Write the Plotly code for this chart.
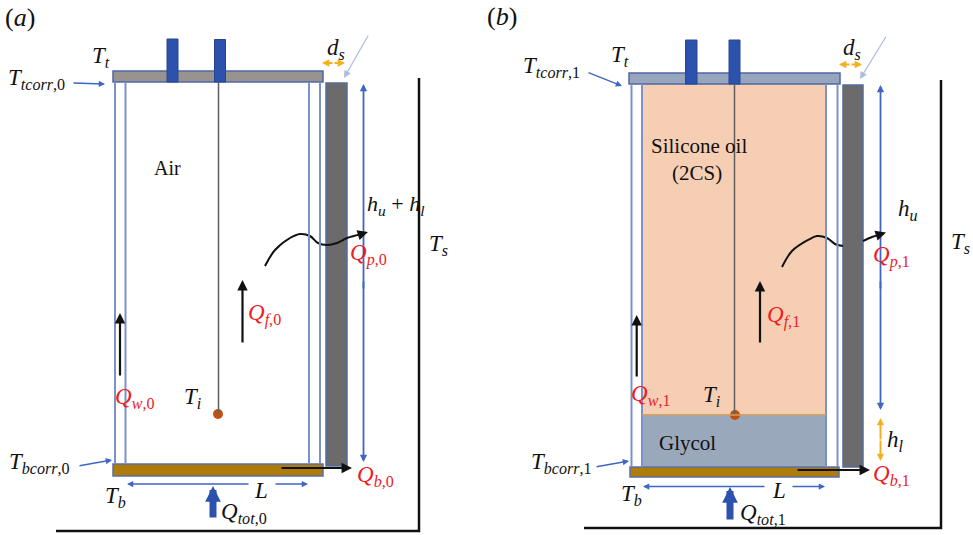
import plotly.graph_objects as go

WIDTH, HEIGHT = 973, 535
SERIF = "Liberation Serif"

PLATE_BLUE = "#4f67a8"
WALL = "#7d91c9"
PIN = "#2c52ad"
ARROW_BLUE = "#3f66c4"
ORANGE = "#f6b01c"
RED = "#ee1c25"
BLACK = "#111111"

# rectangles: x0, x1, y0, y1, fill, line
rects_a = [
    (113, 323, 71, 82, "#99938f", PLATE_BLUE),
    (326, 347, 83, 466, "#6b6b6b", "#566c9e"),
    (113, 323, 464, 476, "#ad7c09", "#5a6ea8"),
]
rects_b = [
    (642, 826, 84, 415, "#f6ceb3", "#f6ceb3"),
    (642, 826, 415, 466, "#9aa8bc", "#9aa8bc"),
    (629, 840, 73, 84, "#98a6bd", PLATE_BLUE),
    (843, 863, 85, 467, "#6b6b6b", "#566c9e"),
    (630, 839, 467, 477, "#ad7c09", "#5a6ea8"),
]
pins = [
    (167, 178, 39, 82),
    (214.5, 225.5, 39.5, 82),
    (685.5, 697, 40, 84),
    (729, 740, 40, 84),
]
# wall lines: x, y0, y1
walls = [
    (115, 82, 464), (125.5, 82, 464), (309, 82, 464), (320, 82, 464),
    (631.5, 84, 467), (642, 84, 467), (826, 84, 467), (837.5, 84, 467),
]
# thermocouple rods: x, y0, y1
rods = [(218.5, 82, 414), (734.5, 84, 415)]
dots_x = [218, 735]
dots_y = [414, 415]

# enclosure outline
frame_a_x, frame_a_y = [419, 419, 56], [78, 531, 531]
frame_b_x, frame_b_y = [941, 941, 584], [80, 528, 528]

glycol_top = (642, 826, 415)

# wavy heat path
qp0_x = [265, 275, 290, 300, 310, 318, 327, 337, 347, 362]
qp0_y = [266, 250, 238, 234, 236, 243, 245, 243, 238, 234]
qp1_x = [782, 792, 808, 817, 827, 835, 843]
qp1_y = [267, 251, 240, 236, 238, 244, 246]
qp1b_x = [863, 872, 880]
qp1b_y = [241, 237, 234.5]

# arrows: tail x, tail y, tip x, tip y, colour, width, head length
arrows = [
    (72, 83, 105, 84, ARROW_BLUE, 1.4, 6),
    (78, 466, 112, 460, ARROW_BLUE, 1.4, 6),
    (369, 34, 344, 78, "#aebce2", 1.2, 7),
    (333, 63, 345, 63, ORANGE, 2, 7),
    (334, 63, 322, 63, ORANGE, 2, 7),
    (363.5, 290, 363.5, 84, ARROW_BLUE, 1.8, 7),
    (363.5, 280, 363.5, 462, ARROW_BLUE, 1.8, 7),
    (250, 484, 127, 484, ARROW_BLUE, 1.6, 6),
    (274, 484, 308, 484, ARROW_BLUE, 1.6, 6),
    (120, 377, 120, 313, BLACK, 2.2, 10),
    (242.5, 344, 242.5, 280, BLACK, 2.2, 10),
    (280, 468, 352, 468, BLACK, 2.2, 10),
    (360, 234.5, 368, 232, BLACK, 2.2, 10),
    (213, 519, 213, 486, PIN, 7, 15),

    (587, 72, 622, 86, ARROW_BLUE, 1.4, 6),
    (595, 467, 629, 461, ARROW_BLUE, 1.4, 6),
    (887, 35, 860, 79, "#aebce2", 1.2, 7),
    (850, 64.5, 862, 64.5, ORANGE, 2, 7),
    (851, 64.5, 839, 64.5, ORANGE, 2, 7),
    (880.5, 290, 880.5, 85, ARROW_BLUE, 1.8, 7),
    (880.5, 280, 880.5, 410, ARROW_BLUE, 1.8, 7),
    (880.5, 441, 880.5, 418, ORANGE, 2, 7),
    (880.5, 439, 880.5, 461, ORANGE, 2, 7),
    (766, 486.5, 643, 486.5, ARROW_BLUE, 1.6, 6),
    (791, 486.5, 825, 486.5, ARROW_BLUE, 1.6, 6),
    (636.7, 378, 636.7, 315, BLACK, 2.2, 10),
    (760, 344, 760, 281, BLACK, 2.2, 10),
    (796, 470, 870, 470, BLACK, 2.2, 10),
    (878, 235, 886, 232.5, BLACK, 2.2, 10),
    (730, 521, 730, 487, PIN, 7, 15),
]

# labels: left x, centre y, markup, colour, size
labels = [
    (4, 17, "(<i>a</i>)", BLACK, 26),
    (486, 16, "(<i>b</i>)", BLACK, 26),
    (91, 57, "<i>T</i><sub><i>t</i></sub>", BLACK, 23),
    (7, 79, "<i>T</i><sub><i>tcorr</i>,0</sub>", BLACK, 23),
    (8, 463, "<i>T</i><sub><i>bcorr</i>,0</sub>", BLACK, 23),
    (153, 168, "Air", BLACK, 20),
    (326, 49, "<i>d</i><sub><i>s</i></sub>", BLACK, 23),
    (366, 205, "<i>h</i><sub><i>u</i></sub> + <i>h</i><sub><i>l</i></sub>", BLACK, 22),
    (428, 245, "<i>T</i><sub><i>s</i></sub>", BLACK, 23),
    (349, 254, "<i>Q</i><sub><i>p</i>,0</sub>", RED, 23),
    (247, 314, "<i>Q</i><sub><i>f</i>,0</sub>", RED, 23),
    (114, 398, "<i>Q</i><sub><i>w</i>,0</sub>", RED, 23),
    (183, 398, "<i>T</i><sub><i>i</i></sub>", BLACK, 23),
    (356, 476, "<i>Q</i><sub><i>b</i>,0</sub>", RED, 23),
    (104, 497, "<i>T</i><sub><i>b</i></sub>", BLACK, 23),
    (253, 490, "<i>L</i>", BLACK, 23),
    (220, 513, "<i>Q</i><sub><i>tot</i>,0</sub>", BLACK, 23),

    (610, 56, "<i>T</i><sub><i>t</i></sub>", BLACK, 23),
    (522, 67, "<i>T</i><sub><i>tcorr</i>,1</sub>", BLACK, 23),
    (530, 463, "<i>T</i><sub><i>bcorr</i>,1</sub>", BLACK, 23),
    (650, 146, "Silicone oil", BLACK, 21),
    (671, 173, "(2CS)", BLACK, 21),
    (658, 443, "Glycol", BLACK, 21),
    (842, 49, "<i>d</i><sub><i>s</i></sub>", BLACK, 23),
    (897, 210, "<i>h</i><sub><i>u</i></sub>", BLACK, 23),
    (950, 243, "<i>T</i><sub><i>s</i></sub>", BLACK, 23),
    (886, 441, "<i>h</i><sub><i>l</i></sub>", BLACK, 23),
    (872, 256, "<i>Q</i><sub><i>p</i>,1</sub>", RED, 23),
    (766, 316, "<i>Q</i><sub><i>f</i>,1</sub>", RED, 23),
    (630, 395, "<i>Q</i><sub><i>w</i>,1</sub>", RED, 23),
    (702, 396, "<i>T</i><sub><i>i</i></sub>", BLACK, 23),
    (872, 475, "<i>Q</i><sub><i>b</i>,1</sub>", RED, 23),
    (620, 495, "<i>T</i><sub><i>b</i></sub>", BLACK, 23),
    (771, 490, "<i>L</i>", BLACK, 23),
    (739, 514, "<i>Q</i><sub><i>tot</i>,1</sub>", BLACK, 23),
]

fig = go.Figure()

for x0, x1, y0, y1, fill, line in rects_a + rects_b:
    fig.add_shape(type="rect", x0=x0, x1=x1, y0=y0, y1=y1, fillcolor=fill,
                  line=dict(color=line, width=1.5), layer="below")
for x, y0, y1 in walls:
    fig.add_shape(type="line", x0=x, x1=x, y0=y0, y1=y1, line=dict(color=WALL, width=2))
for x0, x1, y0, y1 in pins:
    fig.add_shape(type="rect", x0=x0, x1=x1, y0=y0, y1=y1, fillcolor=PIN,
                  line=dict(color="#2a468f", width=1))
for x, y0, y1 in rods:
    fig.add_shape(type="line", x0=x, x1=x, y0=y0, y1=y1, line=dict(color="#5f5f5f", width=1.5))
fig.add_shape(type="line", x0=glycol_top[0], x1=glycol_top[1], y0=glycol_top[2], y1=glycol_top[2],
              line=dict(color="#d0a060", width=1.5))

for xs, ys in [(frame_a_x, frame_a_y), (frame_b_x, frame_b_y)]:
    fig.add_trace(go.Scatter(x=xs, y=ys, mode="lines", hoverinfo="skip",
                             line=dict(color=BLACK, width=2.5)))
for xs, ys in [(qp0_x, qp0_y), (qp1_x, qp1_y), (qp1b_x, qp1b_y)]:
    fig.add_trace(go.Scatter(x=xs, y=ys, mode="lines", hoverinfo="skip",
                             line=dict(color=BLACK, width=2, shape="spline")))
fig.add_trace(go.Scatter(x=dots_x, y=dots_y, mode="markers", hoverinfo="skip",
                         marker=dict(color="#c4500f", size=10)))

for x0, y0, x1, y1, color, width, head in arrows:
    fig.add_annotation(x=x1, y=y1, ax=x0, ay=y0, xref="x", yref="y", axref="x", ayref="y",
                       text="", showarrow=True, arrowhead=2,
                       arrowsize=max(0.3, head / (4.8 * width)),
                       arrowwidth=width, arrowcolor=color)

for x, y, text, color, size in labels:
    fig.add_annotation(x=x, y=y, xref="x", yref="y", text=text, showarrow=False,
                       xanchor="left", yanchor="middle", borderpad=0,
                       font=dict(family=SERIF, size=size, color=color))

fig.update_layout(
    width=WIDTH, height=HEIGHT, showlegend=False,
    margin=dict(l=0, r=0, t=0, b=0),
    paper_bgcolor="white", plot_bgcolor="white",
    xaxis=dict(range=[0, WIDTH], visible=False, fixedrange=True),
    yaxis=dict(range=[HEIGHT, 0], visible=False, fixedrange=True),
)

fig.write_html("out.html", config={"displayModeBar": False},
               post_script="document.body.style.margin='0';")
